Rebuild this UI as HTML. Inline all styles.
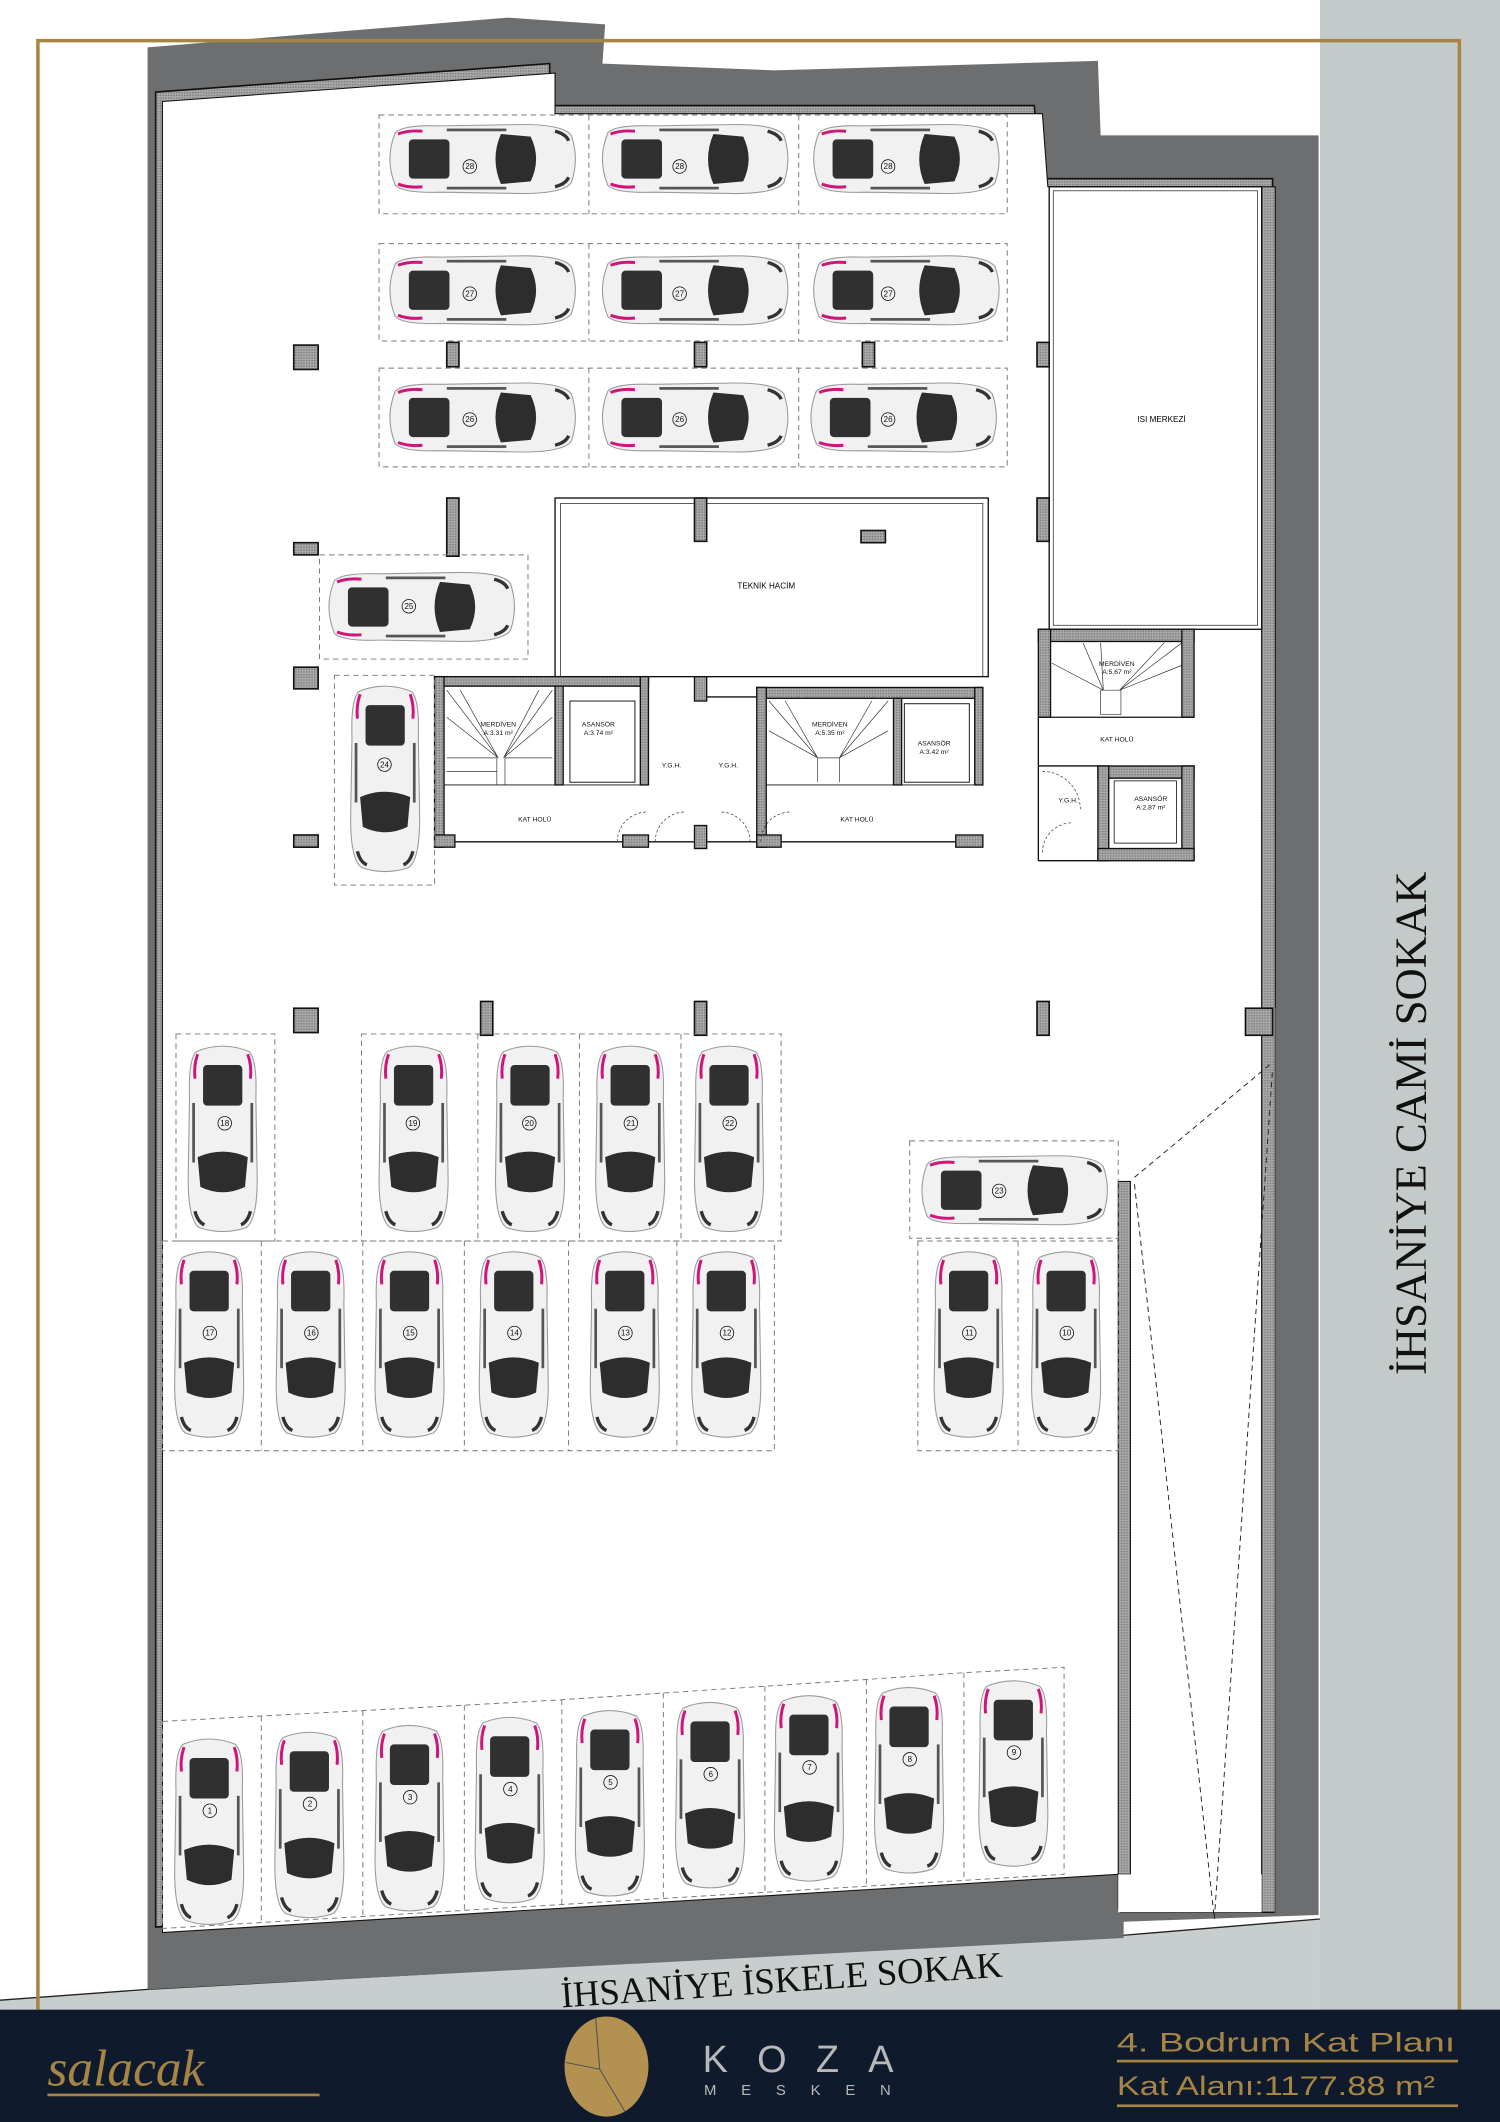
<!DOCTYPE html>
<html><head><meta charset="utf-8"><style>
html,body{margin:0;padding:0;background:#fff}
svg{display:block}
</style></head><body>
<svg width="1500" height="2122" viewBox="0 0 1108 1568" preserveAspectRatio="none" xmlns="http://www.w3.org/2000/svg" font-family="Liberation Sans, sans-serif">
<defs>
<pattern id="h" width="2" height="2" patternUnits="userSpaceOnUse"><rect width="2" height="2" fill="#a8a8a8"/><rect width="1" height="1" fill="#7a7a7a"/></pattern>
<symbol id="car" viewBox="0 0 55 140" width="55" height="140">
<path d="M8,6 Q27.5,-2 47,6 Q53,12 52,40 L53,100 Q53,130 45,136 Q27.5,142 10,136 Q2,130 2,100 L3,40 Q2,12 8,6Z" fill="#f1f1f1" stroke="#9a9a9a" stroke-width="0.8"/>
<path d="M9,8 Q6,16 7,26" stroke="#d0157a" stroke-width="2.2" fill="none"/>
<path d="M46,8 Q49,16 48,26" stroke="#d0157a" stroke-width="2.2" fill="none"/>
<rect x="13" y="16" width="29" height="30" rx="3" fill="#303030"/>
<path d="M9,84 Q27.5,76 46,84 L44,106 Q27.5,114 11,106Z" fill="#2d2d2d"/>
<rect x="5" y="44" width="2" height="44" fill="#555"/>
<rect x="48" y="44" width="2" height="44" fill="#555"/>
<path d="M7,124 Q9,132 14,134" stroke="#333" stroke-width="2.5" fill="none"/>
<path d="M48,124 Q46,132 41,134" stroke="#333" stroke-width="2.5" fill="none"/>
</symbol>
</defs>

<rect x="975" y="0" width="133" height="1490" fill="#c3cac9"/>
<polygon points="0,1478 109,1470 830,1430 975,1418 975,1490 0,1490" fill="#c7cecd"/>
<polyline points="0,1478 109,1470 830,1430 975,1418" fill="none" stroke="#222" stroke-width="1"/>

<polygon points="109,35 375,13 447,18 445,47 572,52 811,45 813,100 974,100 974,1415 830,1420 830,1432 109,1470" fill="#6d6e70"/>
<polygon points="115,68 406,47 406,78 764,78 768,132 940,132 940,1413 828,1413 828,1381 115,1424" fill="url(#h)" stroke="#111" stroke-width="1.2"/>
<polygon points="120,75 410,54 410,84 770,84 774,138 932,138 932,1410 826,1410 826,1385 120,1428" fill="#fff" stroke="#111" stroke-width="0.8"/>
<rect x="932" y="138" width="10" height="1275" fill="url(#h)" stroke="#111" stroke-width="0.8"/>
<rect x="942" y="745" width="10" height="670" fill="#6d6e70"/>
<rect x="826" y="873" width="9" height="512" fill="url(#h)" stroke="#111" stroke-width="0.8"/>
<rect x="826" y="1385" width="106" height="28" fill="#fff"/>
<g stroke="#222" stroke-width="0.7" stroke-dasharray="4,3" fill="none">
<line x1="838" y1="875" x2="897" y2="1418"/>
<line x1="897" y1="1418" x2="940" y2="790"/>
<line x1="838" y1="870" x2="940" y2="785"/>
</g>

<g fill="none" stroke="#111" stroke-width="1">
<rect x="775" y="138" width="157" height="327"/>
<rect x="778" y="141" width="151" height="321" stroke-width="0.5"/>
<rect x="410" y="368" width="320" height="132"/>
<rect x="414" y="372" width="312" height="128" stroke-width="0.5"/>
</g>
<text x="858" y="312" font-size="6" text-anchor="middle">ISI MERKEZİ</text>
<text x="566" y="435" font-size="6" text-anchor="middle">TEKNİK HACİM</text>

<g fill="url(#h)" stroke="#111" stroke-width="1.2">
<rect x="217" y="255" width="18" height="18"/>
<rect x="217" y="401" width="18" height="9"/>
<rect x="217" y="493" width="18" height="16"/>
<rect x="217" y="617" width="18" height="9"/>
<rect x="217" y="745" width="18" height="18"/>
<rect x="330" y="253" width="9" height="18"/>
<rect x="330" y="368" width="9" height="43"/>
<rect x="513" y="253" width="9" height="18"/>
<rect x="513" y="368" width="9" height="32"/>
<rect x="637" y="253" width="9" height="18"/>
<rect x="636" y="392" width="18" height="9"/>
<rect x="766" y="253" width="9" height="18"/>
<rect x="766" y="368" width="9" height="32"/>
<rect x="355" y="740" width="9" height="25"/>
<rect x="513" y="740" width="9" height="25"/>
<rect x="766" y="740" width="9" height="25"/>
<rect x="920" y="745" width="20" height="20"/>
</g>

<g stroke="#111" stroke-width="1">
<rect x="321" y="500" width="158" height="7" fill="url(#h)"/>
<rect x="321" y="500" width="7" height="126" fill="url(#h)"/>
<rect x="410" y="507" width="6" height="73" fill="url(#h)"/>
<rect x="473" y="500" width="6" height="80" fill="url(#h)"/>
<rect x="321" y="617" width="15" height="9" fill="url(#h)"/>
<rect x="460" y="617" width="19" height="9" fill="url(#h)"/>
<line x1="336" y1="622" x2="460" y2="622"/>
<rect x="421" y="518" width="48" height="60" fill="none" stroke-width="0.7"/>
<rect x="513" y="500" width="9" height="18" fill="url(#h)"/>
<rect x="513" y="610" width="9" height="17" fill="url(#h)"/>
<rect x="559" y="508" width="167" height="8" fill="url(#h)"/>
<rect x="559" y="508" width="7" height="118" fill="url(#h)"/>
<rect x="660" y="516" width="6" height="64" fill="url(#h)"/>
<rect x="720" y="508" width="6" height="72" fill="url(#h)"/>
<rect x="559" y="617" width="18" height="9" fill="url(#h)"/>
<rect x="706" y="617" width="20" height="9" fill="url(#h)"/>
<line x1="577" y1="622" x2="706" y2="622"/>
<rect x="668" y="520" width="48" height="58" fill="none" stroke-width="0.7"/>
<line x1="479" y1="622" x2="513" y2="622"/>
<line x1="522" y1="622" x2="559" y2="622"/>
<line x1="522" y1="515" x2="559" y2="515"/>
<line x1="328" y1="580" x2="479" y2="580" stroke-width="0.6"/>
<line x1="566" y1="580" x2="720" y2="580" stroke-width="0.6"/>
</g>
<g stroke="#333" stroke-width="0.5" fill="none">
<path d="M330,510 L368,560 M408,510 L372,560 M340,510 L368,560 M398,510 L372,560 M330,530 L368,560 M408,530 L372,560 M367,560 L367,580 M373,560 L373,580 M330,560 L367,560 M373,560 L408,560 M330,570 L367,570"/>
<path d="M568,518 L604,560 M656,518 L620,560 M580,518 L604,560 M644,518 L620,560 M568,540 L604,560 M656,540 L620,560 M604,560 L604,578 M620,560 L620,578 M604,560 L620,560"/>
<path d="M813,475 L815,510 M873,475 L827,510 M800,475 L815,510 M860,475 L827,510 M777,490 L815,510 M877,490 L827,510 M813,510 L828,510 L828,528 L813,528Z"/>
<path d="M456,622 A22,22 0 0 1 478,600 M484,622 A22,22 0 0 1 506,600 M554,622 A22,22 0 0 0 532,600 M562,622 A22,22 0 0 1 584,600 M770,570 A28,28 0 0 1 798,598 M770,630 A22,22 0 0 1 792,608" stroke-dasharray="2,1.5"/>
</g>
<g stroke="#111" stroke-width="1">
<rect x="767" y="465" width="115" height="9" fill="url(#h)"/>
<rect x="767" y="465" width="9" height="65" fill="url(#h)"/>
<rect x="873" y="465" width="9" height="65" fill="url(#h)"/>
<rect x="811" y="566" width="71" height="9" fill="url(#h)"/>
<rect x="811" y="566" width="8" height="70" fill="url(#h)"/>
<rect x="873" y="566" width="9" height="70" fill="url(#h)"/>
<rect x="811" y="627" width="71" height="9" fill="url(#h)"/>
<line x1="767" y1="530" x2="882" y2="530"/>
<line x1="767" y1="530" x2="767" y2="636"/>
<line x1="767" y1="636" x2="811" y2="636"/>
<line x1="767" y1="566" x2="811" y2="566"/>
<rect x="823" y="577" width="46" height="46" fill="none" stroke-width="0.6"/>
</g>
<g font-size="5" text-anchor="middle" fill="#111">
<text x="368" y="537">MERDİVEN</text><text x="368" y="543">A:3.31 m²</text>
<text x="442" y="537">ASANSÖR</text><text x="442" y="543">A:3.74 m²</text>
<text x="613" y="537">MERDİVEN</text><text x="613" y="543">A:5.35 m²</text>
<text x="690" y="551">ASANSÖR</text><text x="690" y="557">A:3.42 m²</text>
<text x="496" y="567">Y.G.H.</text><text x="538" y="567">Y.G.H.</text>
<text x="395" y="607">KAT HOLÜ</text><text x="633" y="607">KAT HOLÜ</text>
<text x="825" y="492">MERDİVEN</text><text x="825" y="498">A:5.67 m²</text>
<text x="825" y="548">KAT HOLÜ</text>
<text x="789" y="593">Y.G.H.</text>
<text x="850" y="592">ASANSÖR</text><text x="850" y="598">A:2.87 m²</text>
</g>

<g fill="none" stroke="#777" stroke-width="0.7" stroke-dasharray="4,3">
<rect x="280" y="85" width="464" height="73"/><line x1="435" y1="85" x2="435" y2="158"/><line x1="590" y1="85" x2="590" y2="158"/>
<rect x="280" y="180" width="464" height="72"/><line x1="435" y1="180" x2="435" y2="252"/><line x1="590" y1="180" x2="590" y2="252"/>
<rect x="280" y="272" width="464" height="73"/><line x1="435" y1="272" x2="435" y2="345"/><line x1="590" y1="272" x2="590" y2="345"/>
<rect x="236" y="410" width="154" height="77"/>
<rect x="247" y="499" width="74" height="155"/>
<rect x="130" y="764" width="73" height="153"/>
<rect x="267" y="764" width="310" height="153"/><line x1="353" y1="764" x2="353" y2="917"/><line x1="428" y1="764" x2="428" y2="917"/><line x1="503" y1="764" x2="503" y2="917"/>
<rect x="120" y="917" width="452" height="155"/><line x1="193" y1="917" x2="193" y2="1072"/><line x1="268" y1="917" x2="268" y2="1072"/><line x1="343" y1="917" x2="343" y2="1072"/><line x1="420" y1="917" x2="420" y2="1072"/><line x1="500" y1="917" x2="500" y2="1072"/>
<rect x="672" y="843" width="154" height="72"/>
<rect x="678" y="917" width="148" height="155"/><line x1="752" y1="917" x2="752" y2="1072"/>
<polyline points="120,1272 193,1268 268,1264 343,1260 415,1256 490,1251 565,1246 640,1241 712,1236 786,1232 786,1385 120,1425 120,1272"/>
<line x1="193" y1="1268" x2="193" y2="1421"/><line x1="268" y1="1264" x2="268" y2="1417"/><line x1="343" y1="1260" x2="343" y2="1412"/><line x1="415" y1="1256" x2="415" y2="1408"/><line x1="490" y1="1251" x2="490" y2="1403"/><line x1="565" y1="1246" x2="565" y2="1399"/><line x1="640" y1="1241" x2="640" y2="1394"/><line x1="712" y1="1236" x2="712" y2="1390"/>
</g>

<g>
<use href="#car" transform="translate(286,145) rotate(-90)"/>
<use href="#car" transform="translate(443,145) rotate(-90)"/>
<use href="#car" transform="translate(599,145) rotate(-90)"/>
<use href="#car" transform="translate(286,242) rotate(-90)"/>
<use href="#car" transform="translate(443,242) rotate(-90)"/>
<use href="#car" transform="translate(599,242) rotate(-90)"/>
<use href="#car" transform="translate(286,336) rotate(-90)"/>
<use href="#car" transform="translate(443,336) rotate(-90)"/>
<use href="#car" transform="translate(597,336) rotate(-90)"/>
<use href="#car" transform="translate(241,476) rotate(-90)"/>
<use href="#car" transform="translate(679,907) rotate(-90)"/>
</g>
<g>
<use href="#car" x="257" y="505"/>
<use href="#car" x="137" y="771"/>
<use href="#car" x="278" y="771"/>
<use href="#car" x="364" y="771"/>
<use href="#car" x="438" y="771"/>
<use href="#car" x="511" y="771"/>
<use href="#car" x="127" y="923"/>
<use href="#car" x="202" y="923"/>
<use href="#car" x="275" y="923"/>
<use href="#car" x="352" y="923"/>
<use href="#car" x="434" y="923"/>
<use href="#car" x="509" y="923"/>
<use href="#car" x="688" y="923"/>
<use href="#car" x="760" y="923"/>
<use href="#car" x="127" y="1283"/>
<use href="#car" x="201" y="1278"/>
<use href="#car" x="275" y="1273"/>
<use href="#car" x="349" y="1267"/>
<use href="#car" x="423" y="1262"/>
<use href="#car" x="497" y="1256"/>
<use href="#car" x="570" y="1251"/>
<use href="#car" x="644" y="1245"/>
<use href="#car" x="721" y="1240"/>
</g>
<g font-size="6" text-anchor="middle" fill="#111">
<g fill="none" stroke="#111" stroke-width="0.6">
<circle cx="347" cy="123" r="5"/><circle cx="502" cy="123" r="5"/><circle cx="656" cy="123" r="5"/>
<circle cx="347" cy="217" r="5"/><circle cx="502" cy="217" r="5"/><circle cx="656" cy="217" r="5"/>
<circle cx="347" cy="310" r="5"/><circle cx="502" cy="310" r="5"/><circle cx="656" cy="310" r="5"/>
<circle cx="302" cy="448" r="5"/><circle cx="738" cy="880" r="5"/><circle cx="284" cy="565" r="5"/>
<circle cx="166" cy="830" r="5"/><circle cx="305" cy="830" r="5"/><circle cx="391" cy="830" r="5"/><circle cx="466" cy="830" r="5"/><circle cx="539" cy="830" r="5"/>
<circle cx="155" cy="985" r="5"/><circle cx="230" cy="985" r="5"/><circle cx="303" cy="985" r="5"/><circle cx="380" cy="985" r="5"/><circle cx="462" cy="985" r="5"/><circle cx="537" cy="985" r="5"/><circle cx="716" cy="985" r="5"/><circle cx="788" cy="985" r="5"/>
<circle cx="155" cy="1338" r="5"/><circle cx="229" cy="1333" r="5"/><circle cx="303" cy="1328" r="5"/><circle cx="377" cy="1322" r="5"/><circle cx="451" cy="1317" r="5"/><circle cx="525" cy="1311" r="5"/><circle cx="598" cy="1306" r="5"/><circle cx="672" cy="1300" r="5"/><circle cx="749" cy="1295" r="5"/>
</g>
<text x="347" y="125">28</text><text x="502" y="125">28</text><text x="656" y="125">28</text>
<text x="347" y="219">27</text><text x="502" y="219">27</text><text x="656" y="219">27</text>
<text x="347" y="312">26</text><text x="502" y="312">26</text><text x="656" y="312">26</text>
<text x="302" y="450">25</text><text x="738" y="882">23</text><text x="284" y="567">24</text>
<text x="166" y="832">18</text><text x="305" y="832">19</text><text x="391" y="832">20</text><text x="466" y="832">21</text><text x="539" y="832">22</text>
<text x="155" y="987">17</text><text x="230" y="987">16</text><text x="303" y="987">15</text><text x="380" y="987">14</text><text x="462" y="987">13</text><text x="537" y="987">12</text><text x="716" y="987">11</text><text x="788" y="987">10</text>
<text x="155" y="1340">1</text><text x="229" y="1335">2</text><text x="303" y="1330">3</text><text x="377" y="1324">4</text><text x="451" y="1319">5</text><text x="525" y="1313">6</text><text x="598" y="1308">7</text><text x="672" y="1302">8</text><text x="749" y="1297">9</text>
</g>

<text transform="translate(1053,830) rotate(-90)" font-family="Liberation Serif, serif" font-size="33" text-anchor="middle" fill="#111">İHSANİYE CAMİ SOKAK</text>
<text transform="translate(578,1472) rotate(-4)" font-family="Liberation Serif, serif" font-size="27" text-anchor="middle" fill="#111">İHSANİYE İSKELE SOKAK</text>

<polyline points="28,1485 28,30 1078,30 1078,1485" fill="none" stroke="#a68444" stroke-width="2.6"/>

<rect x="0" y="1485" width="1108" height="83" fill="#0f1b2d"/>
<text x="35" y="1541" font-family="Liberation Serif, serif" font-style="italic" font-size="38" fill="#a68444">salacak</text>
<rect x="35" y="1547" width="201" height="2" fill="#a68444"/>
<ellipse cx="448" cy="1527" rx="31" ry="37" fill="#b39150"/>
<path d="M440,1491 L443,1529 L462,1561 M418,1524 L443,1529" stroke="#4a4a5a" stroke-width="0.7" fill="none"/>
<text x="519" y="1531" font-size="28" fill="#b8b8b8" textLength="141" lengthAdjust="spacing">KOZA</text>
<text x="520" y="1548" font-size="11" fill="#b8b8b8" textLength="138" lengthAdjust="spacing">MESKEN</text>
<text x="825" y="1516" font-size="20" fill="#a68444" textLength="250" lengthAdjust="spacingAndGlyphs">4. Bodrum Kat Planı</text>
<rect x="825" y="1522" width="252" height="2" fill="#a68444"/>
<text x="825" y="1548" font-size="20" fill="#a68444" textLength="235" lengthAdjust="spacingAndGlyphs">Kat Alanı:1177.88 m²</text>
<rect x="825" y="1555" width="252" height="2" fill="#a68444"/>
</svg>
</body></html>
